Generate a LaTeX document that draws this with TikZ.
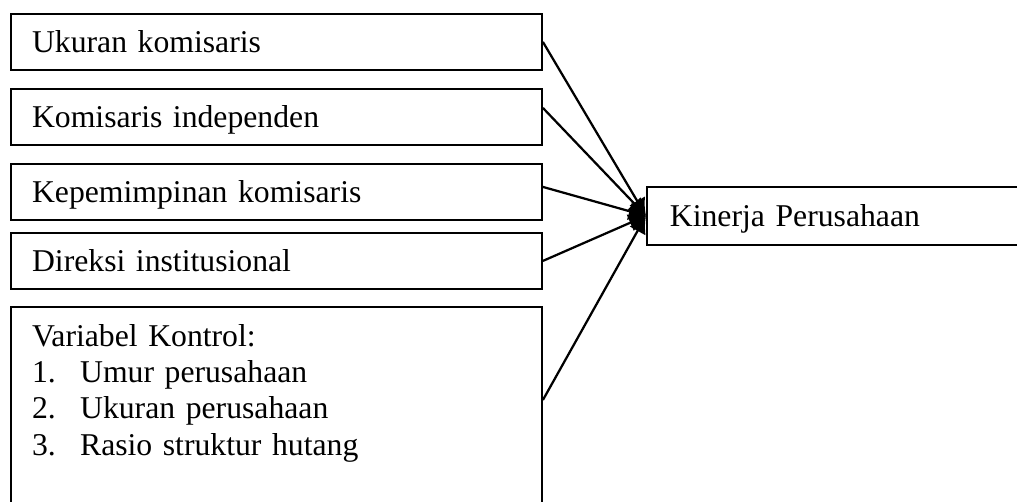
\documentclass[tikz,border=0pt]{standalone}
\usepackage{fontspec}
\setmainfont{Liberation Serif}
\usetikzlibrary{arrows.meta, positioning, calc}

\begin{document}
\begin{tikzpicture}[
    x=0.3785pt, y=-0.3785pt,
    font=\fontsize{12}{13.8}\selectfont,
    kotak/.style={draw, line width=0.7pt, anchor=north west, inner xsep=8pt,
                  minimum height=21.2pt, text width=185pt, align=left,
                  text height=9pt, text depth=1.2pt},
    panah/.style={-{Latex[length=6.5pt,width=7pt]}, line width=0.85pt}
  ]
    \useasboundingbox (0,0) rectangle (1017,502);
    \clip (0,0) rectangle (1017,502);

    \node[kotak] (ukuran) at (10,13) {Ukuran komisaris};
    \node[kotak] (indep) at (10,88) {Komisaris independen};
    \node[kotak] (pimpin) at (10,163) {Kepemimpinan komisaris};
    \node[kotak] (direksi) at (10,232) {Direksi institusional};
    \node[kotak, inner ysep=0pt, text height=14.8pt, text depth=70pt] (kontrol) at (10,306)
      {Variabel Kontrol:\\
       \makebox[18.2pt][l]{1.}Umur perusahaan\\
       \makebox[18.2pt][l]{2.}Ukuran perusahaan\\
       \makebox[18.2pt][l]{3.}Rasio struktur hutang};
    \node[kotak, text width=140pt, inner xsep=8.7pt, minimum height=21.9pt] (kinerja) at (646,186)
      {Kinerja Perusahaan};

    \draw[panah] (ukuran.east) -- (kinerja.west);
    \draw[panah] ($(indep.east)+(0,-9)$) -- (kinerja.west);
    \draw[panah] ($(pimpin.east)+(0,-5)$) -- (kinerja.west);
    \draw[panah] (direksi.east) -- (kinerja.west);
    \draw[panah] ($(kontrol.north east)+(0,94)$) -- (kinerja.west);
  \end{tikzpicture}
\end{document}
